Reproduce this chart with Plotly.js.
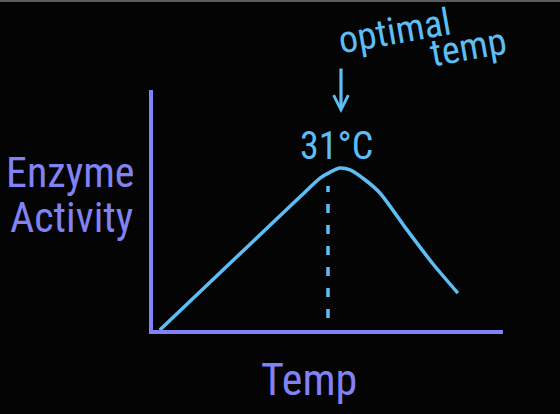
<!DOCTYPE html>
<html>
<head>
<meta charset="utf-8">
<script src="https://cdn.plot.ly/plotly-3.0.1.min.js"></script>
<style>
  html, body { margin: 0; padding: 0; background: #040404; }
  #wrap { position: relative; width: 560px; height: 414px; }
  #chart { width: 560px; height: 414px; }
  #topline { position: absolute; left: 0; top: 0; width: 560px; height: 2px; background: #5a5a5a; }
</style>
</head>
<body>
<div id="wrap">
  <div id="chart"></div>
  <div id="topline"></div>
</div>
<script>
// Temperature (°C) and enzyme activity
const tempC    = [1.2, 13.6, 26.0, 29.6, 31.4, 33.1, 34.9, 37.6, 40.2, 45.0, 49.6, 54.0];
const activity = [0,   27.7, 55.4, 63.3, 65.8, 67.5, 66.7, 62.5, 57.1, 41.7, 27.5, 15.4];

// Optimal temperature marker
const optimalTemp = [31, 31];
const optimalGuide = [5, 60];

const xTitle = "Temp";
const yTitleLines = ["Enzyme", "Activity"];
const peakLabel = "31°C";
const noteLines = ["optimal", "temp"];

const cyan = "#5dbef5";
const purple = "#8182f6";
const hand = "Liberation Sans Narrow, Roboto Condensed, Noto Sans, sans-serif";

const traces = [
  {
    x: tempC, y: activity, type: "scatter", mode: "lines",
    line: { color: cyan, width: 3.5, shape: "spline", smoothing: 0.7 },
    hoverinfo: "skip", showlegend: false
  },
  {
    x: optimalTemp, y: optimalGuide, type: "scatter", mode: "lines",
    line: { color: cyan, width: 3.5, dash: "9px,12px" },
    hoverinfo: "skip", showlegend: false
  }
];

const axisBase = {
  showline: true, linecolor: purple, linewidth: 4,
  showgrid: false, zeroline: false, showticklabels: false, ticks: "",
  fixedrange: true
};

const layout = {
  width: 560, height: 414,
  paper_bgcolor: "#040404", plot_bgcolor: "#040404",
  margin: { l: 153, r: 57, t: 90, b: 84 },
  showlegend: false,
  xaxis: Object.assign({}, axisBase, { range: [0, 62] }),
  yaxis: Object.assign({}, axisBase, { range: [0, 100] }),
  annotations: [
    { xref: "paper", yref: "paper", x: 0.447, y: -0.21, text: xTitle, showarrow: false,
      xanchor: "center", yanchor: "middle", font: { family: hand, size: 44, color: purple } },
    { xref: "paper", yref: "paper", x: -0.237, y: 0.655, text: yTitleLines[0], showarrow: false,
      xanchor: "center", yanchor: "middle", font: { family: hand, size: 42, color: purple } },
    { xref: "paper", yref: "paper", x: -0.234, y: 0.47, text: yTitleLines[1], showarrow: false,
      xanchor: "center", yanchor: "middle", font: { family: hand, size: 42, color: purple } },
    { xref: "x", yref: "y", x: 32.5, y: 76.5, text: peakLabel, showarrow: false,
      xanchor: "center", yanchor: "middle", font: { family: hand, size: 38, color: cyan } },
    { xref: "x", yref: "y", x: 33.3, y: 90.4, ax: 0, ay: -46, text: "", showarrow: true,
      arrowhead: 5, arrowsize: 0.9, arrowwidth: 3.2, arrowcolor: cyan },
    { xref: "paper", yref: "paper", x: 0.69, y: 1.245, text: noteLines[0], showarrow: false,
      textangle: -10, xanchor: "center", yanchor: "middle", font: { family: hand, size: 38, color: cyan } },
    { xref: "paper", yref: "paper", x: 0.9, y: 1.18, text: noteLines[1], showarrow: false,
      textangle: -10, xanchor: "center", yanchor: "middle", font: { family: hand, size: 38, color: cyan } }
  ]
};

Plotly.newPlot("chart", traces, layout, { displayModeBar: false, staticPlot: true });
</script>
</body>
</html>
